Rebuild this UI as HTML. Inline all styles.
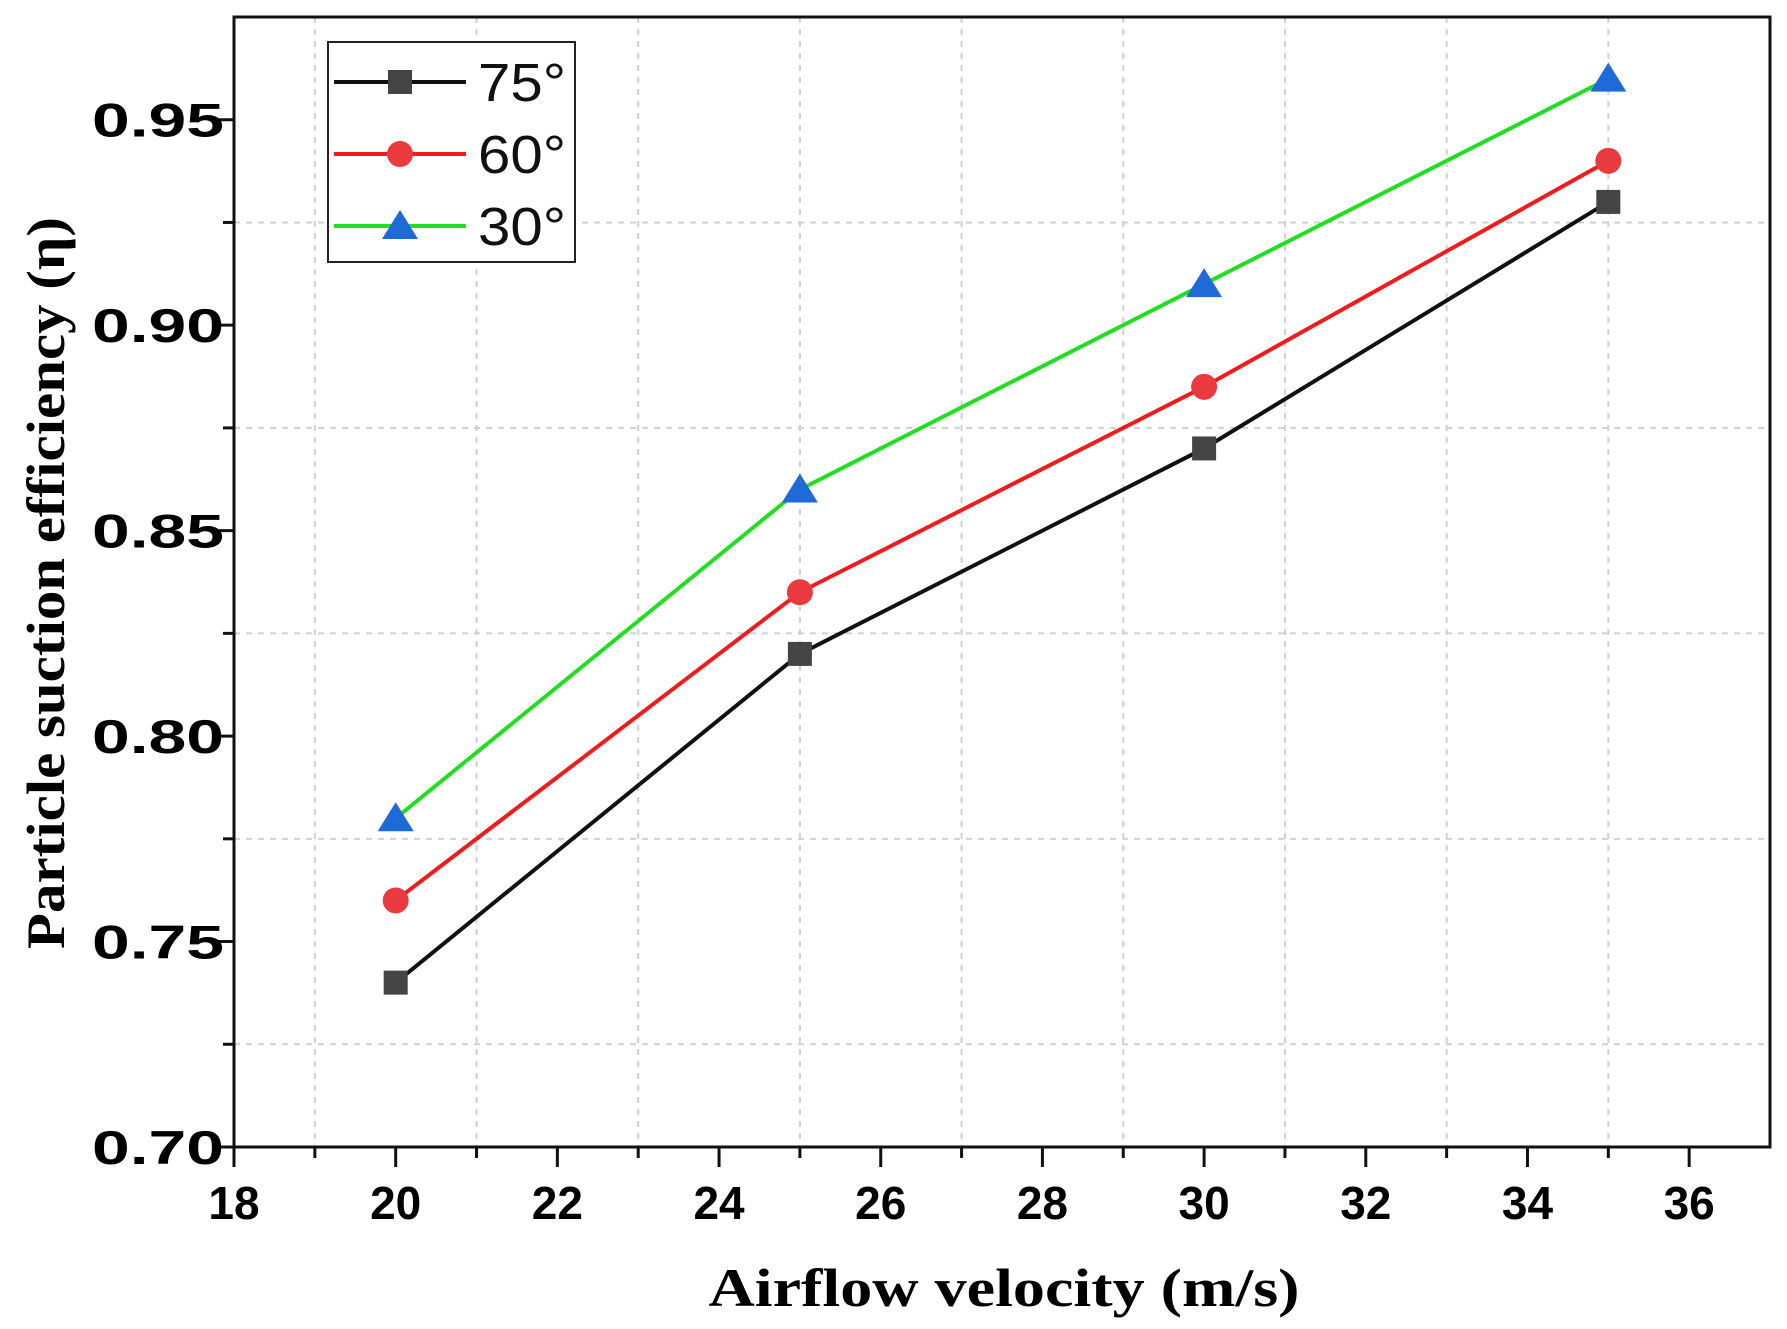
<!DOCTYPE html>
<html><head><meta charset="utf-8"><style>
html,body{margin:0;padding:0;background:#fff}
svg{display:block}
</style></head><body>
<svg id="chart" width="1787" height="1329" viewBox="0 0 1787 1329" xmlns="http://www.w3.org/2000/svg">
<g id="grid"></g>
<g id="axes"></g>
<g id="series"></g>
<text transform="translate(64,583) rotate(-90)" text-anchor="middle" font-family="Liberation Serif, serif" font-weight="bold" font-size="54" textLength="732" lengthAdjust="spacingAndGlyphs">Particle suction efficiency (η)</text>
<text x="1004" y="1306" text-anchor="middle" font-family="Liberation Serif, serif" font-weight="bold" font-size="54" textLength="591" lengthAdjust="spacingAndGlyphs">Airflow velocity (m/s)</text>
<g id="legend"></g>
</svg>
<script>
const xValues=[20,25,30,35];
const s75=[0.74,0.82,0.87,0.93];
const s60=[0.76,0.835,0.885,0.94];
const s30=[0.78,0.86,0.91,0.96];
const seriesNames=["75°","60°","30°"];
const xTicks=[18,20,22,24,26,28,30,32,34,36];
const yTicks=[0.70,0.75,0.80,0.85,0.90,0.95];
const xMinor=[19,21,23,25,27,29,31,33,35,37];
const yMinor=[0.725,0.775,0.825,0.875,0.925];

const L=234,R=1770,T=17,B=1147;
const X0=18,X1=37,Y0=0.70,Y1=0.975;
const sx=v=>L+(v-X0)/(X1-X0)*(R-L);
const sy=v=>B-(v-Y0)/(Y1-Y0)*(B-T);
const NS="http://www.w3.org/2000/svg";
function mk(p,tag,attrs){const e=document.createElementNS(NS,tag);for(const k in attrs)e.setAttribute(k,attrs[k]);p.appendChild(e);return e;}
const grid=document.getElementById('grid'),axes=document.getElementById('axes'),ser=document.getElementById('series'),leg=document.getElementById('legend');

xMinor.forEach(v=>{if(sx(v)>=R-2)return;const e=mk(grid,'line',{x1:sx(v),x2:sx(v),y1:T,y2:B,stroke:'#d0d0d0','stroke-width':2,'stroke-dasharray':'6,6'});

});
yMinor.forEach(v=>{const e=mk(grid,'line',{x1:L,x2:R,y1:sy(v),y2:sy(v),stroke:'#d0d0d0','stroke-width':2,'stroke-dasharray':'6,6'});

});

const frame=mk(axes,'rect',{x:L,y:T,width:R-L,height:B-T,fill:'none',stroke:'#111','stroke-width':3});



xTicks.forEach(v=>{mk(axes,'line',{x1:sx(v),x2:sx(v),y1:B,y2:B+20,stroke:'#111','stroke-width':3});
const t=mk(axes,'text',{x:sx(v),y:B+72,'text-anchor':'middle','font-family':'Liberation Sans, sans-serif','font-weight':'bold','font-size':46});t.textContent=v;

});
xMinor.forEach(v=>{if(sx(v)>=R-2)return;mk(axes,'line',{x1:sx(v),x2:sx(v),y1:B,y2:B+11,stroke:'#111','stroke-width':3});});
yTicks.forEach(v=>{mk(axes,'line',{x1:L-20,x2:L,y1:sy(v),y2:sy(v),stroke:'#111','stroke-width':3});
const t=mk(axes,'text',{x:L-10-132,y:sy(v)+17,'font-family':'Liberation Sans, sans-serif','font-weight':'bold','font-size':47,textLength:132,lengthAdjust:'spacingAndGlyphs'});t.textContent=v.toFixed(2);

});
yMinor.forEach(v=>{mk(axes,'line',{x1:L-11,x2:L,y1:sy(v),y2:sy(v),stroke:'#111','stroke-width':3});});

const styles=[{c:'#111',m:'#444',k:'square'},{c:'#ee1c1c',m:'#e83a3f',k:'circle'},{c:'#22dd22',m:'#1f6ad8',k:'tri'}];
function marker(p,k,x,y,col){
 if(k==='square')return mk(p,'rect',{x:x-12,y:y-12,width:24,height:24,fill:col});
 if(k==='circle')return mk(p,'circle',{cx:x,cy:y,r:13,fill:col});
 return mk(p,'polygon',{points:`${x},${y-16} ${x+18},${y+13} ${x-18},${y+13}`,fill:col});
}
[s75,s60,s30].forEach((s,i)=>{
 const st=styles[i];
 const pl=mk(ser,'polyline',{points:s.map((v,j)=>sx(xValues[j])+','+sy(v)).join(' '),fill:'none',stroke:st.c,'stroke-width':4});
 
 
 s.forEach((v,j)=>{const m=marker(ser,st.k,sx(xValues[j]),sy(v),st.m);
 
 });
});

const lb=mk(leg,'rect',{x:328,y:42,width:247,height:220,fill:'#fff',stroke:'#222','stroke-width':2});


[0,1,2].forEach(i=>{
 const y=82+i*72,st=styles[i];
 mk(leg,'line',{x1:334,x2:466,y1:y,y2:y,stroke:st.c,'stroke-width':4});
 marker(leg,st.k,400,y,st.m);
 const t=mk(leg,'text',{x:478,y:y+19,'font-family':'Liberation Sans, sans-serif','font-size':54,fill:'#111',textLength:88,lengthAdjust:'spacingAndGlyphs'});t.textContent=seriesNames[i];
 
 
});
</script>
</body></html>
